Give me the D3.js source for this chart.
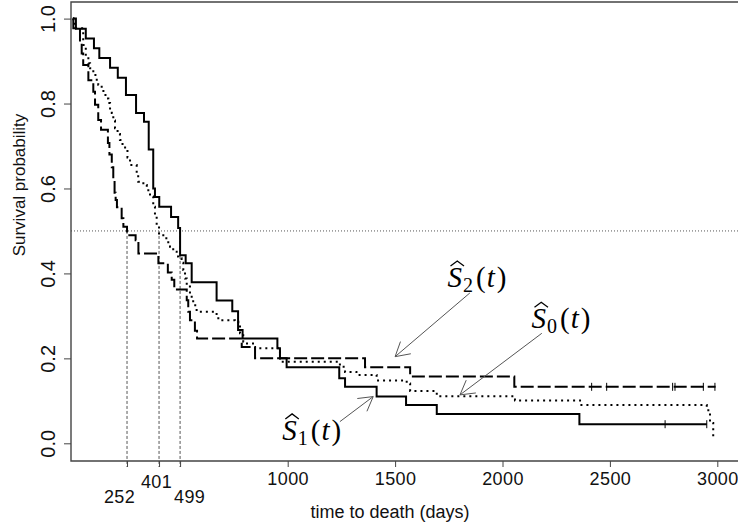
<!DOCTYPE html>
<html><head><meta charset="utf-8">
<script src="https://cdn.jsdelivr.net/npm/d3@7"></script>
<style>body{margin:0;background:#fff}</style>
</head><body>
<svg id="c" width="738" height="527"></svg>
<script>
// ---- data ----
// Ŝ1(t): solid
const s1Time = [0, 14, 60, 98, 123, 173, 209, 247, 294, 331, 353, 374, 382, 402, 457, 490, 499, 525, 553, 669, 742, 769, 790, 952, 964, 995, 1240, 1267, 1414, 1551, 1694, 2358];
const s1Surv = [1.0, 0.976, 0.953, 0.930, 0.907, 0.884, 0.861, 0.820, 0.778, 0.757, 0.692, 0.600, 0.580, 0.557, 0.533, 0.507, 0.443, 0.424, 0.379, 0.336, 0.311, 0.267, 0.247, 0.224, 0.200, 0.179, 0.153, 0.133, 0.110, 0.090, 0.069, 0.045];
const s1End = 2951;
const s1Censor = [2757, 2951];
// Ŝ2(t): dashed
const s2Time = [0, 2, 33, 41, 48, 72, 95, 103, 118, 131, 163, 170, 181, 188, 194, 199, 205, 227, 235, 252, 292, 305, 398, 442, 460, 472, 530, 537, 545, 568, 578, 786, 848, 1360, 1570, 2055];
const s2Surv = [1.0, 0.977, 0.946, 0.918, 0.891, 0.855, 0.828, 0.797, 0.761, 0.738, 0.707, 0.680, 0.650, 0.620, 0.590, 0.573, 0.556, 0.530, 0.510, 0.490, 0.478, 0.447, 0.424, 0.402, 0.385, 0.362, 0.337, 0.310, 0.290, 0.265, 0.247, 0.227, 0.200, 0.179, 0.157, 0.133];
const s2End = 2992;
const s2Censor = [2415, 2485, 2792, 2803, 2935, 2989];
// Ŝ0(t): dotted (all patients)
const s0Time = [0, 2, 14, 48, 60, 72, 80, 95, 111, 118, 134, 142, 157, 165, 173, 181, 188, 196, 208, 219, 231, 243, 254, 266, 297, 304, 328, 344, 359, 374, 382, 390, 401, 429, 444, 452, 467, 483, 491, 506, 514, 522, 530, 545, 553, 560, 576, 669, 677, 754, 770, 778, 793, 801, 848, 956, 964, 1243, 1267, 1320, 1414, 1554, 1570, 1694, 2058, 2361, 2951, 2966, 2981];
const s0Surv = [1.0, 0.988, 0.977, 0.938, 0.910, 0.895, 0.883, 0.867, 0.851, 0.844, 0.832, 0.820, 0.812, 0.801, 0.785, 0.778, 0.760, 0.742, 0.728, 0.714, 0.702, 0.691, 0.673, 0.655, 0.632, 0.616, 0.608, 0.596, 0.581, 0.557, 0.534, 0.514, 0.490, 0.483, 0.470, 0.463, 0.451, 0.440, 0.436, 0.425, 0.408, 0.388, 0.369, 0.355, 0.340, 0.325, 0.310, 0.298, 0.290, 0.286, 0.279, 0.259, 0.239, 0.235, 0.224, 0.216, 0.192, 0.180, 0.168, 0.161, 0.148, 0.141, 0.123, 0.111, 0.101, 0.090, 0.078, 0.048, 0.008];
const s0End = 2981;
const s0Censor = [];

const medianTimes = [252, 401, 499];
const medianLevel = 0.5;
const xTicks = [1000, 1500, 2000, 2500, 3000];
const yTicks = [0, 0.2, 0.4, 0.6, 0.8, 1.0];
const xTitle = "time to death (days)";
const yTitle = "Survival probability";

// annotation anchors (data coordinates)
const annoNames = ["2", "0", "1"];
const annoLabelAt = [[1744, 0.368], [2135, 0.271], [975, 0.008]];
const annoArrowFrom = [[1848, 0.354], [2183, 0.259], [1243, 0.051]];
const annoArrowTo = [[1500, 0.204], [1802, 0.114], [1398, 0.110]];

// ---- drawing ----
const svg = d3.select("#c");
const x = d3.scaleLinear().domain([0, 3000]).range([72.9, 717.3]);
const y = d3.scaleLinear().domain([0, 1]).range([443.3, 18.6]);
const L = 71, T = 2, B = 461, R = 760;
const axisCol = "#444";
const sans = "'Liberation Sans', Arial, sans-serif";

// reference lines
svg.append("line").attr("x1", L).attr("x2", 738).attr("y1", y(medianLevel)).attr("y2", y(medianLevel))
  .attr("stroke", "#555").attr("stroke-width", 1).attr("stroke-dasharray", "1,2");
svg.selectAll("line.med").data(medianTimes).join("line").attr("class", "med")
  .attr("x1", d => x(d)).attr("x2", d => x(d)).attr("y1", y(medianLevel)).attr("y2", B + 6)
  .attr("stroke", "#555").attr("stroke-width", 1).attr("stroke-dasharray", "3,2");

// curves
const line = d3.line().x(d => x(d[0])).y(d => y(d[1])).curve(d3.curveStepAfter);
function pts(t, s, end) { const p = t.map((v, i) => [v, s[i]]); p.push([end, s[s.length - 1]]); return p; }
function survAt(t, s, tt) { let v = s[0]; for (let i = 0; i < t.length; i++) if (t[i] <= tt) v = s[i]; return v; }
const curves = [
  {t: s0Time, s: s0Surv, end: s0End, c: s0Censor, dash: "2,4"},
  {t: s2Time, s: s2Surv, end: s2End, c: s2Censor, dash: "13,4"},
  {t: s1Time, s: s1Surv, end: s1End, c: s1Censor, dash: null}
];
curves.forEach(cv => {
  svg.append("path").attr("d", line(pts(cv.t, cv.s, cv.end)))
    .attr("fill", "none").attr("stroke", "#000").attr("stroke-width", 2)
    .attr("stroke-dasharray", cv.dash);
  svg.selectAll(null).data(cv.c).join("line")
    .attr("x1", d => x(d)).attr("x2", d => x(d))
    .attr("y1", d => y(survAt(cv.t, cv.s, d)) - 4).attr("y2", d => y(survAt(cv.t, cv.s, d)) + 4)
    .attr("stroke", "#000").attr("stroke-width", 1);
});

// frame
svg.append("path").attr("d", `M${R},${T}H${L}V${B}H${R}`).attr("fill", "none")
  .attr("stroke", axisCol).attr("stroke-width", 1.4);

// y axis
const gy = svg.append("g").attr("transform", `translate(${L},0)`)
  .call(d3.axisLeft(y).tickValues(yTicks).tickSize(7).tickFormat(d3.format(".1f")));
gy.select(".domain").remove();
gy.selectAll(".tick line").attr("stroke", axisCol);
gy.selectAll(".tick text").attr("transform", "rotate(-90)").attr("x", 0).attr("y", -16).attr("dy", 0)
  .attr("text-anchor", "middle").attr("font-family", sans).attr("font-size", 20).attr("fill", "#111");

// x axis
const gx = svg.append("g").attr("transform", `translate(0,${B})`)
  .call(d3.axisBottom(x).tickValues(xTicks).tickSize(6).tickFormat(d3.format("d")));
gx.select(".domain").remove();
gx.selectAll(".tick line").attr("stroke", axisCol);
gx.selectAll(".tick text").attr("y", 24).attr("dy", 0).attr("font-family", sans).attr("font-size", 18)
  .attr("letter-spacing", 0.4).attr("fill", "#111");

const medOff = {252: [-8, 42], 401: [-3, 27], 499: [9, 42]};
const gm = svg.append("g").attr("transform", `translate(0,${B})`)
  .call(d3.axisBottom(x).tickValues(medianTimes).tickSize(6).tickFormat(d3.format("d")));
gm.select(".domain").remove();
gm.selectAll(".tick line").attr("stroke", axisCol);
gm.selectAll(".tick text").attr("x", d => medOff[d][0]).attr("y", d => medOff[d][1]).attr("dy", 0)
  .attr("font-family", sans).attr("font-size", 18).attr("letter-spacing", 0.4).attr("fill", "#111");

// titles
svg.append("text").attr("x", 390).attr("y", 518).attr("text-anchor", "middle")
  .attr("font-family", sans).attr("font-size", 18).attr("fill", "#111").text(xTitle);
svg.append("text").attr("transform", "translate(25,185) rotate(-90)").attr("text-anchor", "middle")
  .attr("font-family", sans).attr("font-size", 17).attr("fill", "#111").text(yTitle);

// annotations
annoNames.forEach((nm, i) => {
  const [fx, fy] = [x(annoArrowFrom[i][0]), y(annoArrowFrom[i][1])];
  const [tx, ty] = [x(annoArrowTo[i][0]), y(annoArrowTo[i][1])];
  const ang = Math.atan2(fy - ty, fx - tx), hl = 16, ha = Math.PI / 6;
  const g = svg.append("g").attr("stroke", "#555").attr("stroke-width", 1).attr("fill", "none");
  g.append("path").attr("d",
    `M${fx},${fy}L${tx},${ty}M${tx + hl * Math.cos(ang + ha)},${ty + hl * Math.sin(ang + ha)}L${tx},${ty}L${tx + hl * Math.cos(ang - ha)},${ty + hl * Math.sin(ang - ha)}`);
  const lx = x(annoLabelAt[i][0]), ly = y(annoLabelAt[i][1]);
  const t = svg.append("text").attr("x", lx).attr("y", ly)
    .attr("font-family", "'Liberation Serif', 'Times New Roman', serif").attr("font-size", 29).attr("fill", "#000");
  t.append("tspan").attr("font-style", "italic").text("S");
  t.append("tspan").attr("font-size", 20).attr("dy", 5).attr("dx", 1).text(nm);
  t.append("tspan").attr("dy", -5).attr("dx", 3).text("(");
  t.append("tspan").attr("font-style", "italic").attr("dx", 1).text("t");
  t.append("tspan").attr("dx", 2).text(")");
  const ext = t.node().getExtentOfChar(0);
  const x0 = ext.x + 3, x1 = ext.x + ext.width + 2, top = ly - 20;
  svg.append("path").attr("d", `M${x0},${top - 1}L${(x0 + x1) / 2},${top - 6}L${x1},${top - 1}`)
    .attr("fill", "none").attr("stroke", "#000").attr("stroke-width", 1.3);
});
</script>
</body></html>
